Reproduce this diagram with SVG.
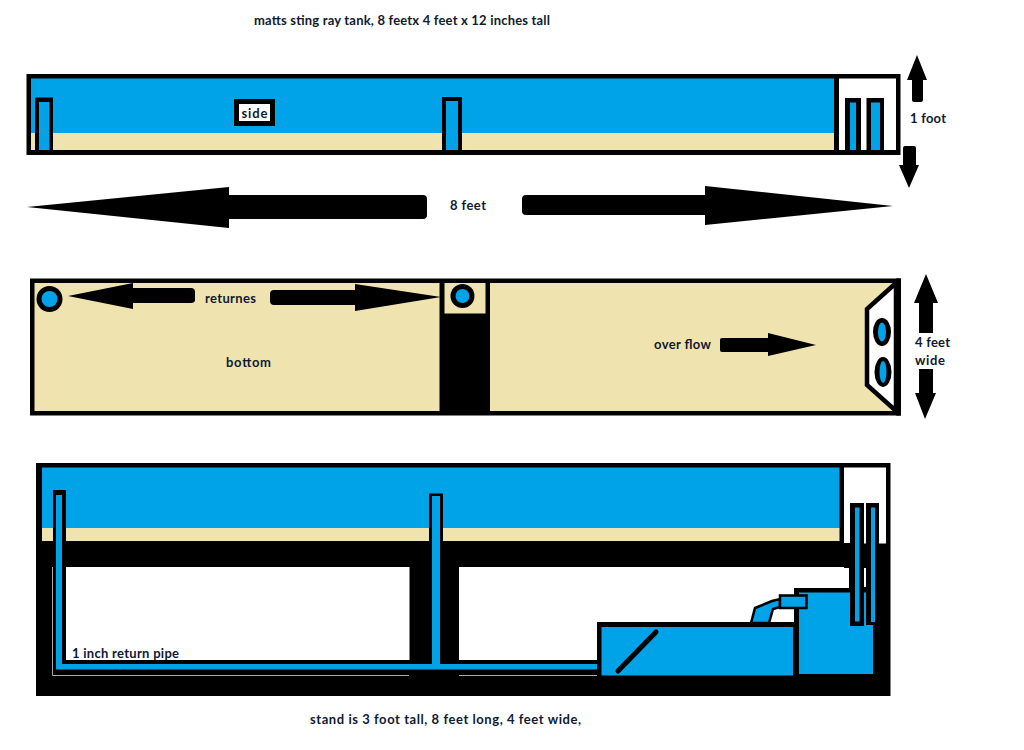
<svg xmlns="http://www.w3.org/2000/svg" width="1024" height="750" viewBox="0 0 1024 750">
<style>
text{font-family:"Lato","Open Sans","Liberation Sans",sans-serif;font-weight:700;font-size:13px;fill:#101a2e}
.k{fill:#000}.b{fill:#00a2e8}.s{fill:#efe4b0}.w{fill:#fff}
.o{stroke:#000;stroke-width:4.5}
.g{stroke:#aaa;stroke-width:1;fill:none}
</style>
<rect width="1024" height="750" fill="#fff"/>
<text x="254" y="25" textLength="296">matts sting ray tank, 8 feetx 4 feet x 12 inches tall</text>

<g id="side-tank">
<rect class="k" x="26.500" y="74" width="874" height="81"/>
<rect class="b" x="31" y="78.500" width="803" height="55"/>
<rect class="s" x="31" y="133" width="803" height="17"/>
<rect class="w" x="839" y="78.500" width="57" height="71.500"/>
<rect class="k" x="35" y="97.500" width="18" height="53"/>
<rect class="b" x="39" y="102" width="10.500" height="48"/>
<rect class="k" x="442" y="97" width="20" height="53"/>
<rect class="b" x="446" y="101" width="12" height="49"/>
<rect class="k" x="845" y="98" width="16" height="52"/>
<rect class="b" x="850" y="102.500" width="6" height="47.500"/>
<rect class="k" x="866.500" y="98" width="17.500" height="52"/>
<rect class="b" x="871" y="102.500" width="9" height="47.500"/>
<rect class="k" x="234" y="99" width="41" height="27"/>
<rect class="w" x="239" y="104" width="31" height="17"/>
<text x="241.500" y="117.500" textLength="26">side</text>
</g>

<g id="dimension-arrows">
<path class="k" d="M27 207L229 187V195H423Q427 195 427 199V215Q427 219 423 219H229V228Z"/>
<path class="k" d="M893 206L705 186V195H526Q522 195 522 199V211Q522 215 526 215H705V225Z"/>
<path class="k" d="M917 55L927 80H923V100Q923 102 921 102H914Q912 102 912 100V80H907Z"/>
<path class="k" d="M909 188L899 165H903V148Q903 146 905 146H914Q916 146 916 148V165H919Z"/>
<path class="k" d="M926 274L938 303H933V333H919V303H914Z"/>
<path class="k" d="M925 419L915 393H919V369H933V393H936Z"/>
<text x="910" y="123" textLength="36">1 foot</text>
<text x="450" y="210" textLength="36">8 feet</text>
<text x="915" y="347" textLength="35">4 feet</text>
<text x="915" y="365" textLength="30">wide</text>
</g>

<g id="bottom-tank">
<rect class="k" x="30" y="278.500" width="871" height="137"/>
<rect class="s" x="34.500" y="283" width="405" height="128"/>
<rect class="s" x="490" y="283" width="406" height="128"/>
<rect class="s" x="444.500" y="283" width="41" height="30.500"/>
<path class="w o" d="M896 283L867 309V385L896 411Z"/>
<rect class="k" x="896" y="278.500" width="5" height="137"/>
<ellipse class="k" cx="882" cy="332" rx="9" ry="14"/>
<ellipse class="b" cx="882" cy="332" rx="4" ry="9.500"/>
<ellipse class="k" cx="883" cy="372" rx="8.500" ry="15"/>
<ellipse class="b" cx="883" cy="372" rx="3.500" ry="11"/>
<circle class="k" cx="49.500" cy="299" r="13"/>
<circle class="b" cx="49.500" cy="299" r="8"/>
<circle class="k" cx="462.500" cy="296" r="12"/>
<circle class="b" cx="462.500" cy="296" r="7"/>
<path class="k" d="M68 296L133 283V288H191Q195 288 195 292V300Q195 303 191 303H133V309Z"/>
<path class="k" d="M441 297L355 284V290H274Q270 290 270 294V301Q270 305 274 305H355V311Z"/>
<path class="k" d="M816 345L768 333V338H722Q720 338 720 340V350Q720 352 722 352H768V356Z"/>
<text x="205" y="303" textLength="51">returnes</text>
<text x="226" y="367" textLength="45">bottom</text>
<text x="654" y="349" textLength="57">over flow</text>
</g>

<g id="stand">
<rect class="k" x="36" y="463" width="854.500" height="233"/>
<rect class="b" x="42" y="467.500" width="797.500" height="61"/>
<rect class="s" x="42" y="528" width="797.500" height="13"/>
<rect class="w" x="844" y="467.500" width="42" height="76"/>
<rect class="w" x="65" y="567" width="344.500" height="93"/>
<rect class="w" x="459" y="567" width="390" height="93"/>
<rect class="w" x="863.500" y="568" width="2.500" height="19"/>
</g>

<g id="sump">
<rect class="k" x="597" y="622" width="200" height="60"/>
<rect class="k" x="794" y="588" width="60" height="92"/>
<rect class="b" x="601.500" y="627" width="191.500" height="48.500"/>
<rect class="b" x="799" y="592.500" width="74" height="81.500"/>
<rect class="k" x="850" y="503" width="14" height="123"/>
<rect class="b" x="855" y="507.500" width="4.500" height="114"/>
<rect class="k" x="866" y="503" width="13" height="122"/>
<rect class="k" x="873" y="592" width="10" height="35"/>
<rect class="b" x="871" y="507.500" width="4" height="114.500"/>
<path class="k" d="M844 543H850V568H844Z"/>
<path class="b" stroke="#000" stroke-width="2.500" d="M751 623L755 608L772 601L780 599V607L773 609L769 623Z"/>
<rect class="b" x="780" y="595.500" width="26.500" height="12.500" stroke="#000" stroke-width="2.500"/>
<path stroke="#000" stroke-width="5" stroke-linecap="round" fill="none" d="M618 671L656 632"/>
</g>

<g id="connectors">
<rect class="k" x="53" y="490" width="13" height="175"/>
<rect class="k" x="429" y="493.500" width="14" height="170"/>
<rect class="k" x="53" y="660" width="544" height="15"/>
<path class="b" d="M56 495H62V664H432V496H440V664H597V669.500H56Z"/>
<path class="g" d="M52.500 567V675.500H409M459 675.500H597"/>
</g>

<text x="72" y="658" textLength="107">1 inch return pipe</text>
<text x="310" y="724" textLength="271">stand is 3 foot tall, 8 feet long, 4 feet wide,</text>
</svg>
